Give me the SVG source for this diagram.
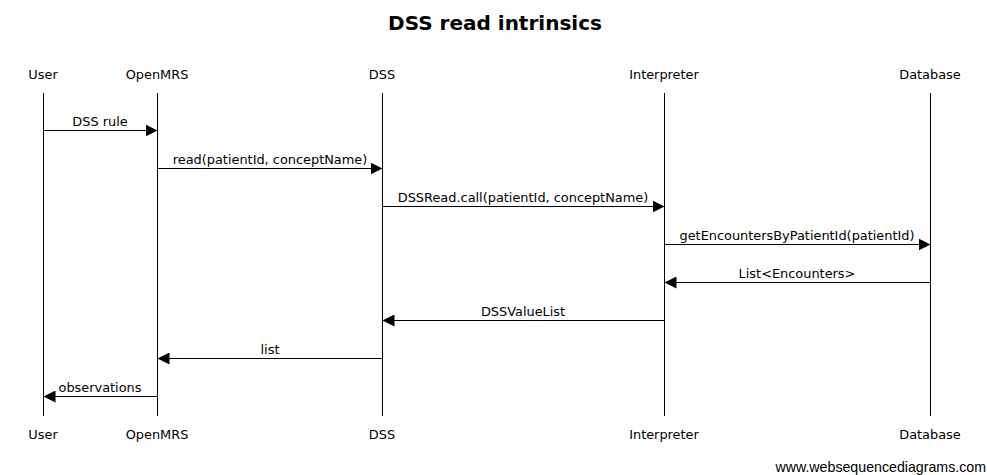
<svg xmlns="http://www.w3.org/2000/svg" width="987" height="475" viewBox="0 0 987 475">
<style>
text{font-family:"DejaVu Sans",sans-serif;font-size:12.9px;fill:#000}
.t{font-size:20px;font-weight:bold}
.c{text-anchor:middle}
.w{font-family:"Liberation Sans",Arial,sans-serif;font-size:14.2px;text-anchor:end}
.life{stroke:#000;stroke-width:1}
.msg{stroke:#000;stroke-width:1;fill:none}
</style>
<defs>
<marker id="ah" markerWidth="12" markerHeight="12" refX="12" refY="6" orient="auto" markerUnits="userSpaceOnUse">
<path d="M0,0 L12,6 L0,12 Z" fill="#000"/>
</marker>
</defs>
<rect width="987" height="475" fill="#fff"/>
<text class="t c" x="495" y="30">DSS read intrinsics</text>
<g id="User"><text class="c" x="43" y="79">User</text><line class="life" x1="43.5" y1="93" x2="43.5" y2="416"/><text class="c" x="43" y="439">User</text></g>
<g id="OpenMRS"><text class="c" x="157" y="79">OpenMRS</text><line class="life" x1="157.5" y1="93" x2="157.5" y2="416"/><text class="c" x="157" y="439">OpenMRS</text></g>
<g id="DSS"><text class="c" x="382" y="79">DSS</text><line class="life" x1="382.5" y1="93" x2="382.5" y2="416"/><text class="c" x="382" y="439">DSS</text></g>
<g id="Interpreter"><text class="c" x="664" y="79">Interpreter</text><line class="life" x1="664.5" y1="93" x2="664.5" y2="416"/><text class="c" x="664" y="439">Interpreter</text></g>
<g id="Database"><text class="c" x="930" y="79">Database</text><line class="life" x1="930.5" y1="93" x2="930.5" y2="416"/><text class="c" x="930" y="439">Database</text></g>
<g id="connectors">
<line class="msg" x1="43.5" y1="130.5" x2="157.5" y2="130.5" marker-end="url(#ah)"/>
<text class="c" x="100" y="126">DSS rule</text>
<line class="msg" x1="157.5" y1="168.5" x2="382.5" y2="168.5" marker-end="url(#ah)"/>
<text class="c" x="270" y="164">read(patientId, conceptName)</text>
<line class="msg" x1="382.5" y1="206.5" x2="664.5" y2="206.5" marker-end="url(#ah)"/>
<text class="c" x="523" y="202">DSSRead.call(patientId, conceptName)</text>
<line class="msg" x1="664.5" y1="244.5" x2="930.5" y2="244.5" marker-end="url(#ah)"/>
<text class="c" x="797" y="240">getEncountersByPatientId(patientId)</text>
<line class="msg" x1="930.5" y1="282.5" x2="664.5" y2="282.5" marker-end="url(#ah)"/>
<text class="c" x="797" y="278">List&lt;Encounters&gt;</text>
<line class="msg" x1="664.5" y1="320.5" x2="382.5" y2="320.5" marker-end="url(#ah)"/>
<text class="c" x="523" y="316">DSSValueList</text>
<line class="msg" x1="382.5" y1="358.5" x2="157.5" y2="358.5" marker-end="url(#ah)"/>
<text class="c" x="270" y="354">list</text>
<line class="msg" x1="157.5" y1="396.5" x2="43.5" y2="396.5" marker-end="url(#ah)"/>
<text class="c" x="100" y="392">observations</text>
</g>
<text class="w" x="986" y="472">www.websequencediagrams.com</text>
</svg>
